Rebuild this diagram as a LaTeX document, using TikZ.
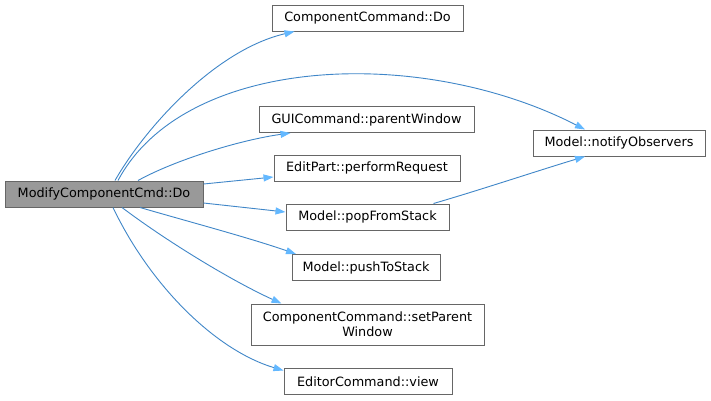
\documentclass[tikz,border=0pt]{standalone}
\usepackage{fontspec}
\setmainfont{DejaVu Sans}
\usetikzlibrary{arrows.meta}
\definecolor{edgeblue}{HTML}{63B8FF}
\definecolor{edgeline}{HTML}{3F86C8}
\definecolor{boxborder}{HTML}{666666}
\definecolor{mainfill}{HTML}{999999}
\begin{document}
\begin{tikzpicture}[x=1pt,y=-1pt,
  fn/.style={draw=boxborder,line width=1pt,fill=white,inner sep=0pt,
    font=\fontsize{12.8}{15}\selectfont,align=center,minimum height=26pt},
  mainfn/.style={fn,fill=mainfill},
  edge/.style={draw=edgeline,line width=0.9pt,
    -{Triangle[length=10pt,width=7pt,fill=edgeblue,color=edgeblue]}}]
\fill[white] (0,0) rectangle (711,400);
\useasboundingbox (0,0) rectangle (711,400);
\node[mainfn,minimum width=198pt] (main) at (104,194) {ModifyComponentCmd::Do};
\node[fn,minimum width=191pt] (ccdo) at (367.5,18) {ComponentCommand::Do};
\node[fn,minimum width=172pt] (notify) at (619,143) {Model::notifyObservers};
\node[fn,minimum width=215pt] (gui) at (366.5,119.5) {GUICommand::parentWindow};
\node[fn,minimum width=186pt] (edit) at (367,168) {EditPart::performRequest};
\node[fn,minimum width=163pt] (pop) at (367.5,217) {Model::popFromStack};
\node[fn,minimum width=148pt] (push) at (366,267.5) {Model::pushToStack};
\node[fn,minimum width=233pt,minimum height=41pt] (setp) at (367.5,324.5) {ComponentCommand::setParent\\Window};
\node[fn,minimum width=168pt] (view) at (368,381.5) {EditorCommand::view};
% edges
\draw[edge] ([xshift=11pt]main.north) .. controls (145,128) and (215,50) .. ([xshift=-73pt]ccdo.south);
\draw[edge] ([xshift=14pt]main.north) .. controls (185,55) and (420,45) .. ([xshift=-34pt]notify.north);
\draw[edge] ([xshift=34pt]main.north) .. controls (175,160) and (240,140) .. ([xshift=-76pt]gui.south);
\draw[edge] ([yshift=10pt]main.east) -- ([yshift=-9pt]edit.west);
\draw[edge] ([yshift=-9pt]main.east) -- ([yshift=5pt]pop.west);
\draw[edge] ([xshift=36pt]main.south) .. controls (190,222) and (250,238) .. ([xshift=-70pt]push.north);
\draw[edge] ([xshift=18pt]main.south) .. controls (165,240) and (230,280) .. ([xshift=-86pt]setp.north);
\draw[edge] ([xshift=9pt]main.south) .. controls (150,285) and (215,350) .. ([yshift=11pt]view.west);
\draw[edge] ([xshift=66pt]pop.north) .. controls (480,190) and (540,170) .. ([xshift=-34pt]notify.south);
\end{tikzpicture}
\end{document}
